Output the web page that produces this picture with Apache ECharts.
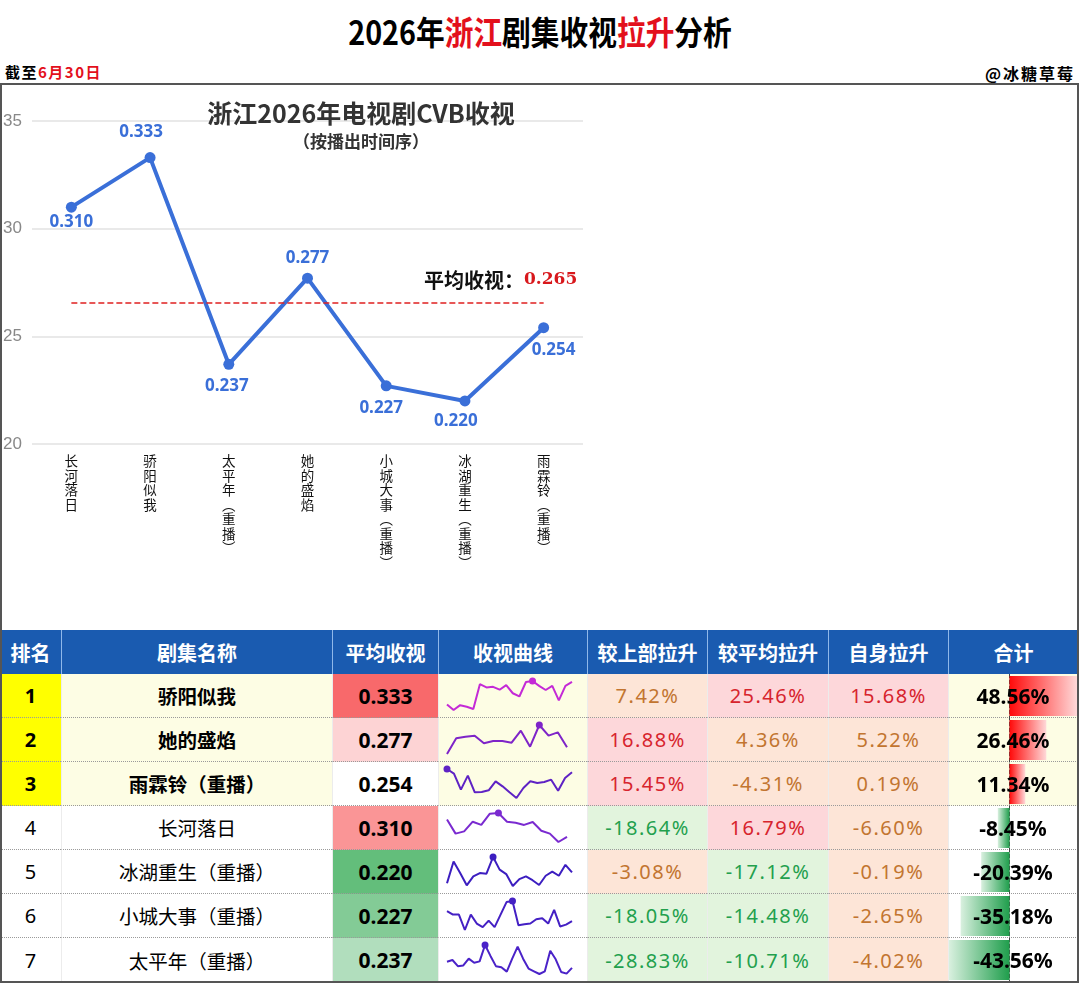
<!DOCTYPE html>
<html>
<head>
<meta charset="utf-8">
<script src="https://cdn.jsdelivr.net/npm/echarts@6/dist/echarts.min.js"></script>
<style>
body { margin: 0; background: #fff; font-family: "Noto Sans", "Noto Sans CJK SC", sans-serif; }
#page { position: relative; width: 1080px; height: 983px; overflow: hidden; background: #fff; }
.abs { position: absolute; box-sizing: border-box; }
.cell { display: flex; align-items: center; justify-content: center; white-space: nowrap; }
</style>
</head>
<body>
<div id="page">
    <div class="abs" style="left:0;top:7px;width:1080px;text-align:center;font:700 33px 'Noto Sans CJK SC';color:#000;transform:scaleX(0.87);">
        2026年<span style="color:#e3101c">浙江</span>剧集收视<span style="color:#e3101c">拉升</span>分析
    </div>
    <div class="abs" style="left:5px;top:61px;font:700 15px 'Noto Sans CJK SC';letter-spacing:1.5px;color:#000;">截至<span style="color:#e3101c">6月30日</span></div>
    <div class="abs" style="right:5px;top:61px;font:700 16px 'Noto Sans CJK SC';letter-spacing:2px;color:#000;">@冰糖草莓</div>
    <div id="topChart" class="abs" style="left:0;top:84px;width:1080px;height:546px;"></div>
    <div id="tblChart" class="abs" style="left:0;top:674px;width:1080px;height:308px;z-index:2;"></div>
    <div class="abs" style="left:0;top:83px;width:1079px;height:900px;border:2px solid #555;z-index:5;pointer-events:none;"></div>
</div>
<script>
// 上图：按播出时间序
const topNames = ['长河落日', '骄阳似我', '太平年（重播）', '她的盛焰', '小城大事（重播）', '冰湖重生（重播）', '雨霖铃（重播）'];
const topRatings = [0.310, 0.333, 0.237, 0.277, 0.227, 0.220, 0.254];

// 下表：按合计拉升排名
const ranks = [1, 2, 3, 4, 5, 6, 7];
const dramaNames = ['骄阳似我', '她的盛焰', '雨霖铃（重播）', '长河落日', '冰湖重生（重播）', '小城大事（重播）', '太平年（重播）'];
const avgRatings = [0.333, 0.277, 0.254, 0.310, 0.220, 0.227, 0.237];
const vsPrev = [7.42, 16.88, 15.45, -18.64, -3.08, -18.05, -28.83];
const vsAvg = [25.46, 4.36, -4.31, 16.79, -17.12, -14.48, -10.71];
const selfRise = [15.68, 5.22, 0.19, -6.60, -0.19, -2.65, -4.02];
const totals = [48.56, 26.46, 11.34, -8.45, -20.39, -35.18, -43.56];

// 收视曲线（单集收视，估读）
const spark1 = [0.297, 0.280, 0.295, 0.290, 0.283, 0.360, 0.350, 0.352, 0.343, 0.357, 0.332, 0.322, 0.367, 0.370, 0.355, 0.342, 0.355, 0.310, 0.355, 0.367];
const spark2 = [0.228, 0.275, 0.280, 0.283, 0.260, 0.267, 0.267, 0.262, 0.298, 0.250, 0.315, 0.283, 0.293, 0.248];
const spark3 = [0.302, 0.288, 0.240, 0.282, 0.232, 0.233, 0.238, 0.265, 0.250, 0.232, 0.215, 0.245, 0.265, 0.260, 0.263, 0.270, 0.237, 0.275, 0.292];
const spark4 = [0.332, 0.288, 0.295, 0.325, 0.315, 0.350, 0.352, 0.325, 0.322, 0.315, 0.324, 0.297, 0.288, 0.262, 0.278];
const spark5 = [0.198, 0.262, 0.228, 0.192, 0.218, 0.228, 0.226, 0.275, 0.238, 0.225, 0.190, 0.210, 0.218, 0.207, 0.193, 0.220, 0.232, 0.220, 0.252, 0.230];
const spark6 = [0.255, 0.245, 0.245, 0.202, 0.245, 0.220, 0.210, 0.228, 0.210, 0.245, 0.280, 0.283, 0.215, 0.218, 0.220, 0.232, 0.235, 0.220, 0.258, 0.212, 0.217, 0.227];
const spark7 = [0.233, 0.238, 0.220, 0.222, 0.242, 0.230, 0.234, 0.282, 0.250, 0.220, 0.217, 0.204, 0.242, 0.277, 0.242, 0.213, 0.205, 0.197, 0.205, 0.265, 0.240, 0.203, 0.198, 0.215];

const sparkColors = ['#c42ad6', '#7e24c8', '#5e22c4', '#7a2ad0', '#3c1ec0', '#4420c4', '#4a22c8'];
const sparkWidths = [125, 120, 125, 120, 125, 125, 125];

// ---------- 上方折线图 ----------
const labelPos = ['bottom', 'top', 'bottom', 'top', 'bottom', 'bottom', 'bottom'];
const labelDist = [1, 11, 8, 6, 8, 6, 8];
const labelDx = [0, -9, -2, 0, -5, -9, 10];
const meanRating = topRatings.reduce((a, b) => a + b, 0) / topRatings.length;

const topChart = echarts.init(document.getElementById('topChart'));
topChart.setOption({
    animation: false,
    title: [{
        text: '浙江2026年电视剧CVB收视',
        subtext: '（按播出时间序）',
        left: 356,
        top: 12,
        textAlign: 'center',
        itemGap: 7,
        textStyle: { fontSize: 25, fontWeight: 'bold', color: '#333', fontFamily: 'Noto Sans CJK SC' },
        subtextStyle: { fontSize: 17, fontWeight: 'bold', color: '#333', fontFamily: 'Noto Sans CJK SC' }
    }, {
        text: '{a|平均收视：}{b|' + meanRating.toFixed(3) + '}',
        left: 419,
        top: 181,
        textStyle: {
            rich: {
                a: { fontSize: 20, fontWeight: 'bold', color: '#111', fontFamily: 'Noto Sans CJK SC' },
                b: { fontSize: 17, color: '#d8181c', fontFamily: 'DejaVu Serif' }
            }
        }
    }],
    grid: { left: 32, top: 37, width: 551, height: 323 },
    xAxis: {
        type: 'category',
        data: topNames,
        axisLine: { show: false },
        axisTick: { show: false },
        axisLabel: {
            margin: 10,
            interval: 0,
            verticalAlign: 'top',
            fontSize: 13.5,
            lineHeight: 14.5,
            color: '#111',
            fontFamily: 'Noto Sans CJK SC',
            formatter: name => name.replace('（', '︵').replace('）', '︶').split('').join('\n')
        }
    },
    yAxis: {
        type: 'value',
        min: 0.2,
        max: 0.35,
        interval: 0.05,
        axisLine: { show: false },
        axisTick: { show: false },
        axisLabel: { margin: 10, fontSize: 17, color: '#888', formatter: v => Math.round(v * 100) },
        splitLine: { lineStyle: { color: '#e2e2e2', width: 1.5 } }
    },
    series: [{
        type: 'line',
        data: topRatings.map((v, i) => ({
            value: v,
            label: { position: labelPos[i], distance: labelDist[i], offset: [labelDx[i], 0] }
        })),
        symbol: 'circle',
        symbolSize: 11,
        lineStyle: { color: '#3a6fd8', width: 4 },
        itemStyle: { color: '#3a6fd8' },
        label: {
            show: true,
            fontSize: 17,
            fontWeight: 'bold',
            color: '#3a6fd8',
            fontFamily: 'Noto Sans',
            formatter: p => p.value.toFixed(3)
        },
        markLine: {
            silent: true,
            symbol: 'none',
            label: { show: false },
            lineStyle: { color: '#e02020', type: 'dashed', width: 1.5 },
            data: [[{ coord: [topNames[0], meanRating] }, { coord: [topNames[topNames.length - 1], meanRating] }]]
        }
    }]
});

// ---------- 表格 ----------
const page = document.getElementById('page');
function box(x, y, w, h, css, html) {
    const d = document.createElement('div');
    d.className = 'abs cell';
    d.style.cssText = `left:${x}px;top:${y}px;width:${w}px;height:${h}px;` + css;
    if (html != null) d.innerHTML = html;
    page.appendChild(d);
    return d;
}
const cols = [0, 61, 332, 438, 587, 707, 828, 948, 1078];
const headers = ['排名', '剧集名称', '平均收视', '收视曲线', '较上部拉升', '较平均拉升', '自身拉升', '合计'];
const headTop = 630, rowH = 44, bodyTop = 674;

headers.forEach((h, i) => {
    box(cols[i], headTop, cols[i + 1] - cols[i], rowH,
        'background:#1a5bb0;color:#fff;font:700 20px "Noto Sans CJK SC";' + (i ? 'border-left:1px solid #8fb8ea;' : ''), h);
});

function mix(c1, c2, t) {
    const a = [1, 3, 5].map(k => parseInt(c1.substr(k, 2), 16));
    const b = [1, 3, 5].map(k => parseInt(c2.substr(k, 2), 16));
    return 'rgb(' + a.map((v, k) => Math.round(v + (b[k] - v) * t)).join(',') + ')';
}
const sortedAvg = avgRatings.slice().sort((a, b) => a - b);
const aMin = sortedAvg[0], aMax = sortedAvg[sortedAvg.length - 1], aMid = sortedAvg[Math.floor(sortedAvg.length / 2)];
function avgColor(v) {
    if (v >= aMid) return mix('#ffffff', '#f8696b', (v - aMid) / (aMax - aMid));
    return mix('#ffffff', '#63be7b', (aMid - v) / (aMid - aMin));
}
function pctStyle(v) {
    if (v > 10) return 'background:#fdd7da;color:#d7242d;';
    if (v < -10) return 'background:#e2f4dd;color:#22a04d;';
    return 'background:#fde5d7;color:#c27530;';
}
const sep = 'border-left:1px solid #ececec;';
ranks.forEach((rk, r) => {
    const y = bodyTop + r * rowH;
    const top3 = r < 3;
    const line = r < ranks.length - 1 ? 'border-bottom:1px dotted #9a9a9a;' : '';
    const lightBg = top3 ? '#fdfde4' : '#ffffff';
    box(cols[0], y, cols[1] - cols[0], rowH, line + `background:${top3 ? '#ffff00' : '#fff'};font:${top3 ? 700 : 400} 20px "Noto Sans";color:#000;`, rk);
    box(cols[1], y, cols[2] - cols[1], rowH, line + sep + `background:${lightBg};font:${top3 ? 700 : 400} 19.5px "Noto Sans CJK SC";color:#000;`, dramaNames[r]);
    box(cols[2], y, cols[3] - cols[2], rowH, line + sep + `background:${avgColor(avgRatings[r])};font:700 21px "Noto Sans";color:#000;`, avgRatings[r].toFixed(3));
    box(cols[3], y, cols[4] - cols[3], rowH, line + sep + `background:${lightBg};`, '');
    [vsPrev, vsAvg, selfRise].forEach((arr, k) => {
        box(cols[4 + k], y, cols[5 + k] - cols[4 + k], rowH, line + sep + pctStyle(arr[r]) + 'font:400 20px "Noto Sans";letter-spacing:1.5px;', arr[r].toFixed(2) + '%');
    });
    box(cols[7], y, cols[8] - cols[7], rowH, line + sep + `background:${lightBg};`, '');
    box(cols[7], y, cols[8] - cols[7], rowH, 'z-index:3;font:700 21px "Noto Sans";color:#000;', totals[r].toFixed(2) + '%');
});

// 收视曲线 + 合计数据条
const sparks = [spark1, spark2, spark3, spark4, spark5, spark6, spark7];
const grids = [], xAxes = [], yAxes = [], series = [];
sparks.forEach((s, i) => {
    grids.push({ left: 447, top: i * rowH + 7, width: sparkWidths[i], height: 29 });
    xAxes.push({ type: 'category', gridIndex: i, show: false, boundaryGap: false, data: s.map((_, k) => k + 1) });
    yAxes.push({ type: 'value', gridIndex: i, show: false, min: 'dataMin', max: 'dataMax' });
    series.push({
        type: 'line',
        xAxisIndex: i,
        yAxisIndex: i,
        data: s,
        symbol: 'none',
        silent: true,
        lineStyle: { color: sparkColors[i], width: 2 },
        markPoint: {
            symbol: 'circle',
            symbolSize: 7,
            itemStyle: { color: sparkColors[i] },
            label: { show: false },
            data: [{ type: 'max' }]
        }
    });
});
const bi = sparks.length;
grids.push({ left: 949, top: 0, width: 128, height: 308 });
xAxes.push({ type: 'value', gridIndex: bi, show: false, min: 'dataMin', max: 'dataMax' });
yAxes.push({
    type: 'category',
    gridIndex: bi,
    inverse: true,
    data: ranks,
    axisLine: { show: true, onZero: true, lineStyle: { color: '#444', type: 'dashed', width: 1 } },
    axisTick: { show: false },
    axisLabel: { show: false },
    splitLine: { show: false }
});
series.push({
    type: 'bar',
    xAxisIndex: bi,
    yAxisIndex: bi,
    barWidth: 40,
    silent: true,
    data: totals.map(v => ({
        value: v,
        itemStyle: {
            color: v >= 0
                ? new echarts.graphic.LinearGradient(0, 0, 1, 0, [{ offset: 0, color: '#ff0a0a' }, { offset: 1, color: '#ffd9d9' }])
                : new echarts.graphic.LinearGradient(1, 0, 0, 0, [{ offset: 0, color: '#1f9e4c' }, { offset: 1, color: '#d9f0df' }])
        }
    }))
});

const tblChart = echarts.init(document.getElementById('tblChart'));
tblChart.setOption({
    animation: false,
    grid: grids,
    xAxis: xAxes,
    yAxis: yAxes,
    series: series
});
</script>
</body>
</html>
